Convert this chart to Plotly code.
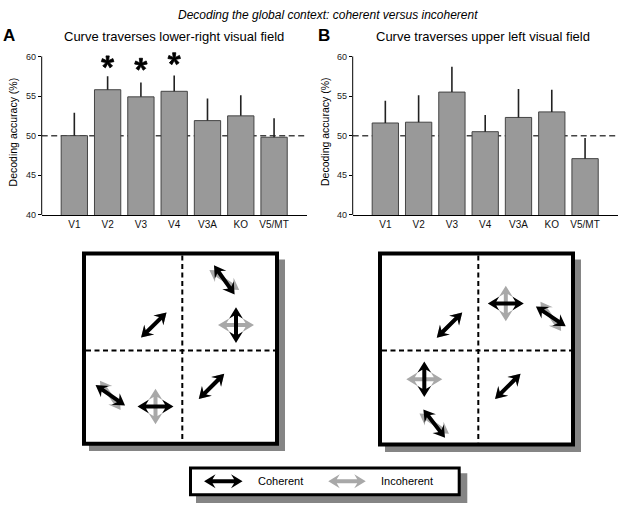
import numpy as np
import plotly.graph_objects as go

# figure size (px)
W, H = 622, 513
FONT = "Liberation Sans, Arial, sans-serif"

# --- bar chart data -------------------------------------------------------
regions = ["V1", "V2", "V3", "V4", "V3A", "KO", "V5/MT"]
acc_lower_right = [50.0, 55.8, 54.9, 55.6, 51.9, 52.5, 49.8]
sem_lower_right = [2.9, 1.7, 1.8, 2.0, 2.8, 2.6, 2.4]
acc_upper_left = [51.6, 51.7, 55.5, 50.5, 52.3, 53.0, 47.1]
sem_upper_left = [2.8, 3.4, 3.2, 2.1, 3.6, 2.8, 2.6]
sig_regions = ["V2", "V3", "V4"]
sig_star_y = [59.3, 59.0, 59.7]
chance_level = 50
y_ticks = [40, 45, 50, 55, 60]

# --- schematic: arrow orientations (deg, counter-clockwise from horizontal)
coherent_lower_right = [45, -55, 90, 45, -35, 0]
incoherent_lower_right = [45, -34, 0, 45, -55, 90]
coherent_upper_left = [45, 0, -34, 45, 90, -53]
incoherent_upper_left = [45, 90, -55, 45, 0, -35]


def px(x):
    return x / W


def py(y):
    return 1 - y / H


def arrow_path(cx, cy, ang, length=36, head=11.5, hw=7.0, sw=2.0, notch=3.0):
    """double headed arrow polygon as svg path in paper coords"""
    t = np.deg2rad(ang)
    d = np.array([np.cos(t), -np.sin(t)])
    n = np.array([np.sin(t), np.cos(t)])
    L = length / 2
    pts_uv = [
        (L, 0), (L - head, hw), (L - head + notch, sw),
        (-L + head - notch, sw), (-L + head, hw), (-L, 0),
        (-L + head, -hw), (-L + head - notch, -sw),
        (L - head + notch, -sw), (L - head, -hw),
    ]
    pts = [np.array([cx, cy]) + u * d + v * n for u, v in pts_uv]
    s = "M " + " L ".join(f"{px(p[0]):.5f},{py(p[1]):.5f}" for p in pts) + " Z"
    return s


def asterisk_path(R=6.3, r_in=1.7, half_ang=15):
    """5-armed asterisk, pixel coords relative to its centre (y up)"""
    pts = []
    for k in range(5):
        th = 90 + 72 * k
        for a, r in [(th - 36, r_in), (th - half_ang, R), (th + half_ang, R)]:
            t = np.deg2rad(a)
            pts.append((r * np.cos(t), r * np.sin(t)))
    return "M " + " L ".join(f"{x:.2f},{y:.2f}" for x, y in pts) + " Z"


fig = go.Figure()

bar_style = dict(
    marker=dict(color="#999999", line=dict(color="#444444", width=1)),
    width=0.79,
    showlegend=False,
)
err_style = dict(type="data", symmetric=False, arrayminus=[0] * 7,
                 width=0, thickness=1.6, color="#222222")

fig.add_trace(go.Bar(x=regions, y=acc_lower_right,
                     error_y=dict(array=sem_lower_right, **err_style),
                     xaxis="x", yaxis="y", **bar_style))
fig.add_trace(go.Bar(x=regions, y=acc_upper_left,
                     error_y=dict(array=sem_upper_left, **err_style),
                     xaxis="x2", yaxis="y2", **bar_style))

# y range runs a bit past 60 so the asterisks are not clipped;
# the visible axis line (40-60) is drawn as a shape below
y_top = 62.5
x_common = dict(range=[-0.98, 6.98], showline=True, linecolor="black",
                linewidth=1, ticks="", showgrid=False, zeroline=False,
                tickfont=dict(size=10, color="#111111", family=FONT),
                fixedrange=True)
y_common = dict(range=[40, y_top], domain=[py(217), py(57 - (y_top - 60) * 8)],
                tickvals=y_ticks, showline=False,
                ticks="outside", ticklen=3, tickcolor="black",
                showgrid=False, zeroline=False,
                tickfont=dict(size=9, color="#222222", family=FONT),
                fixedrange=True)

fig.update_layout(
    xaxis=dict(domain=[px(41.7), px(306.7)], anchor="y", **x_common),
    yaxis=dict(anchor="x", **y_common),
    xaxis2=dict(domain=[px(352.7), px(617.7)], anchor="y2", **x_common),
    yaxis2=dict(anchor="x2", **y_common),
)

shapes = []
for xr, yr in [("x domain", "y"), ("x2 domain", "y2")]:
    # chance level
    shapes.append(dict(type="line", xref=xr, yref=yr, x0=0, x1=1,
                       y0=chance_level, y1=chance_level, layer="below",
                       line=dict(color="#444444", width=1.5, dash="6px,3.5px")))
    # y axis line
    shapes.append(dict(type="line", xref=xr, yref=yr, x0=0, x1=0,
                       y0=y_ticks[0], y1=y_ticks[-1],
                       line=dict(color="black", width=1)))

# significance asterisks
star = asterisk_path()
for reg, sy in zip(sig_regions, sig_star_y):
    shapes.append(dict(type="path", xref="x", yref="y",
                       xsizemode="pixel", ysizemode="pixel",
                       xanchor=reg, yanchor=sy, path=star,
                       fillcolor="black", line=dict(color="black", width=0.8)))

# schematic boxes
boxes = [(82, 254, 279, 450), (378, 254, 575, 451)]
arrow_xy = [
    [(153.8, 328.2), (224.3, 282.7), (236.0, 328.3), (211.5, 390.2),
     (110.3, 399.2), (155.5, 410.5)],
    [(449.5, 328.3), (505.8, 306.5), (550.8, 319.5), (507.8, 390.2),
     (424.3, 383.0), (434.2, 427.8)],
]
coh = [coherent_lower_right, coherent_upper_left]
inc = [incoherent_lower_right, incoherent_upper_left]
dividers = [(182.3, 354), (478.3, 354)]

for i, (x0, y0, x1, y1) in enumerate(boxes):
    shapes.append(dict(type="rect", xref="paper", yref="paper",
                       x0=px(x0 + 7), x1=px(x1 + 6), y0=py(y0 + 8), y1=py(y1 + 5.5),
                       fillcolor="#858585", line=dict(width=0)))
    shapes.append(dict(type="rect", xref="paper", yref="paper",
                       x0=px(x0 + 2), x1=px(x1 - 2), y0=py(y0 + 2), y1=py(y1 - 2),
                       fillcolor="white", line=dict(color="black", width=4)))
    vx, hy = dividers[i]
    dash = dict(color="black", width=2, dash="5px,3.5px")
    shapes.append(dict(type="line", xref="paper", yref="paper",
                       x0=px(vx), x1=px(vx), y0=py(y0 + 4), y1=py(y1 - 4), line=dash))
    shapes.append(dict(type="line", xref="paper", yref="paper",
                       x0=px(x0 + 4), x1=px(x1 - 4), y0=py(hy), y1=py(hy), line=dash))
    for (cx, cy), a in zip(arrow_xy[i], inc[i]):
        shapes.append(dict(type="path", xref="paper", yref="paper",
                           path=arrow_path(cx, cy, a), fillcolor="#a8a8a8",
                           line=dict(width=0)))
    for (cx, cy), a in zip(arrow_xy[i], coh[i]):
        shapes.append(dict(type="path", xref="paper", yref="paper",
                           path=arrow_path(cx, cy, a), fillcolor="black",
                           line=dict(width=0)))

# legend box
shapes.append(dict(type="rect", xref="paper", yref="paper",
                   x0=px(196), x1=px(467.3), y0=py(478), y1=py(508),
                   fillcolor="#858585", line=dict(width=0)))
shapes.append(dict(type="rect", xref="paper", yref="paper",
                   x0=px(190.5), x1=px(459.2), y0=py(472.5), y1=py(499.5),
                   fillcolor="white", line=dict(color="black", width=3)))
shapes.append(dict(type="path", xref="paper", yref="paper",
                   path=arrow_path(223.3, 486, 0, length=38.5),
                   fillcolor="black", line=dict(width=0)))
shapes.append(dict(type="path", xref="paper", yref="paper",
                   path=arrow_path(347.0, 486, 0, length=37.5),
                   fillcolor="#a8a8a8", line=dict(width=0)))

annotations = [
    dict(text="<i>Decoding the global context: coherent versus incoherent</i>",
         x=px(327.7), y=py(15), font=dict(size=12)),
    dict(text="<b>A</b>", x=px(9.3), y=py(35.5), font=dict(size=17)),
    dict(text="<b>B</b>", x=px(323.8), y=py(35.5), font=dict(size=17)),
    dict(text="Curve traverses lower-right visual field",
         x=px(174), y=py(37), font=dict(size=13)),
    dict(text="Curve traverses upper left visual field",
         x=px(482.5), y=py(37), font=dict(size=13)),
    dict(text="Decoding accuracy (%)", textangle=-90,
         x=px(12.7), y=py(133), font=dict(size=10.5)),
    dict(text="Decoding accuracy (%)", textangle=-90,
         x=px(324.3), y=py(133), font=dict(size=10.5)),
    dict(text="Coherent", x=px(256), y=py(486), xanchor="left",
         font=dict(size=11)),
    dict(text="Incoherent", x=px(378.7), y=py(486), xanchor="left",
         font=dict(size=11)),
]
for a in annotations:
    a.setdefault("xref", "paper")
    a.setdefault("yref", "paper")
    a.setdefault("xanchor", "center")
    a["yanchor"] = "middle"
    a["showarrow"] = False
    a["font"] = dict(family=FONT, color="black", **a["font"])

fig.update_layout(
    width=W,
    height=H,
    autosize=False,
    margin=dict(l=0, r=0, t=0, b=0),
    paper_bgcolor="white",
    plot_bgcolor="white",
    font=dict(family=FONT, color="black"),
    shapes=shapes,
    annotations=annotations,
    dragmode=False,
)

# drop the default 8px page margin so the figure sits at the window corner
fig.write_html("out.html", config={"displayModeBar": False},
               post_script="document.body.style.margin='0';")
